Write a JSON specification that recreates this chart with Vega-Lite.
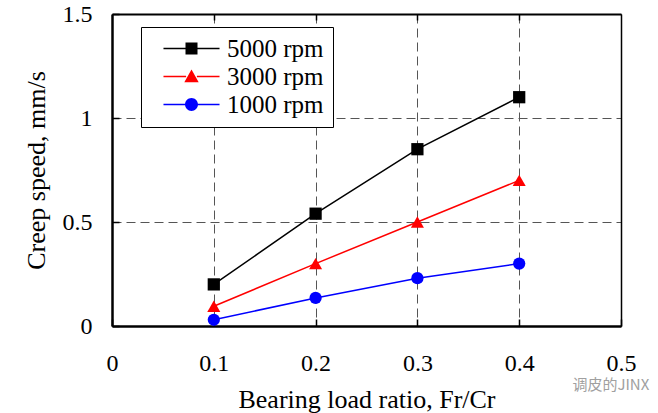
{
  "$schema": "https://vega.github.io/schema/vega-lite/v6.json",
  "width": 509,
  "height": 312,
  "autosize": {"type": "none"},
  "padding": {"left": 112, "top": 14, "right": 37, "bottom": 87},
  "background": "white",
  "config": {
    "view": {"stroke": null},
    "font": "Liberation Serif",
    "axis": {"labelFont": "Liberation Serif", "titleFont": "Liberation Serif"},
    "legend": {"labelFont": "Liberation Serif"}
  },
  "datasets": {
    "main": [
      {"x": 0.1, "speed": 0.2, "series": "5000 rpm"},
      {"x": 0.2, "speed": 0.54, "series": "5000 rpm"},
      {"x": 0.3, "speed": 0.85, "series": "5000 rpm"},
      {"x": 0.4, "speed": 1.1, "series": "5000 rpm"},
      {"x": 0.1, "speed": 0.095, "series": "3000 rpm"},
      {"x": 0.2, "speed": 0.3, "series": "3000 rpm"},
      {"x": 0.3, "speed": 0.5, "series": "3000 rpm"},
      {"x": 0.4, "speed": 0.7, "series": "3000 rpm"},
      {"x": 0.1, "speed": 0.03, "series": "1000 rpm"},
      {"x": 0.2, "speed": 0.135, "series": "1000 rpm"},
      {"x": 0.3, "speed": 0.23, "series": "1000 rpm"},
      {"x": 0.4, "speed": 0.3, "series": "1000 rpm"}
    ],
    "mark": [
      {"x": 0.49, "speed": -0.285, "label": "调皮的JINX"}
    ]
  },
  "resolve": {
    "axis": {"x": "independent", "y": "independent"}
  },
  "layer": [
    {
      "data": {"name": "main"},
      "mark": {"type": "line", "strokeWidth": 1.5},
      "encoding": {
        "x": {
          "field": "x", "type": "quantitative",
          "scale": {"domain": [0, 0.5], "nice": false, "zero": false},
          "axis": {
            "orient": "bottom",
            "values": [0, 0.1, 0.2, 0.3, 0.4, 0.5],
            "format": "~g",
            "labelFlush": false,
            "domain": true, "domainColor": "black", "domainWidth": 2.5,
            "ticks": true, "tickSize": -7, "tickColor": "black", "tickWidth": 1.5,
            "grid": true, "gridDash": [9, 5], "gridColor": "#555", "gridWidth": 1,
            "labelFont": "Liberation Serif", "labelFontSize": 24, "labelColor": "black", "labelPadding": 32,
            "title": "Bearing load ratio, Fr/Cr",
            "titleFont": "Liberation Serif", "titleFontSize": 26, "titleFontWeight": "normal", "titleColor": "black", "titlePadding": 11
          }
        },
        "y": {
          "field": "speed", "type": "quantitative",
          "scale": {"domain": [0, 1.5], "nice": false, "zero": false},
          "axis": {
            "orient": "left",
            "values": [0, 0.5, 1, 1.5],
            "format": "~g",
            "labelFlush": false,
            "domain": true, "domainColor": "black", "domainWidth": 2.5,
            "ticks": true, "tickSize": -7, "tickColor": "black", "tickWidth": 1.5,
            "grid": true, "gridDash": [9, 5], "gridColor": "#555", "gridWidth": 1,
            "labelFont": "Liberation Serif", "labelFontSize": 24, "labelColor": "black", "labelPadding": 27,
            "title": "Creep speed, mm/s",
            "titleFont": "Liberation Serif", "titleFontSize": 26, "titleFontWeight": "normal", "titleColor": "black", "titlePadding": 13
          }
        },
        "color": {
          "field": "series", "type": "nominal",
          "scale": {"domain": ["5000 rpm", "3000 rpm", "1000 rpm"], "range": ["#000000", "#ff0000", "#0000ff"]}
        },
        "detail": {"field": "series"}
      }
    },
    {
      "data": {"name": "main"},
      "mark": {"type": "point", "filled": true, "size": 144, "opacity": 0},
      "encoding": {
        "x": {"field": "x", "type": "quantitative", "axis": null},
        "y": {"field": "speed", "type": "quantitative", "axis": null},
        "color": {
          "field": "series", "type": "nominal",
          "legend": {
            "orient": "none", "legendX": 29, "legendY": 13,
            "title": null,
            "fillColor": "white", "strokeColor": "black",
            "padding": 9,
            "labelFont": "Liberation Serif", "labelFontSize": 25, "labelColor": "black",
            "symbolSize": 144, "symbolOffset": 29, "labelOffset": 23, "rowPadding": 2,
            "symbolStrokeWidth": 0, "symbolOpacity": 1
          }
        },
        "shape": {
          "field": "series", "type": "nominal",
          "scale": {
            "domain": ["5000 rpm", "3000 rpm", "1000 rpm"],
            "range": [
              "M-4.67,-0.13H-0.9V0.13H-4.67ZM0.9,-0.13H4.67V0.13H0.9ZM-1,-1H1V1H-1Z",
              "M-4.67,-0.13H-0.9V0.13H-4.67ZM0.9,-0.13H4.67V0.13H0.9ZM0,-1.15L1.2,0.95H-1.2Z",
              "M-4.67,-0.13H-0.9V0.13H-4.67ZM0.9,-0.13H4.67V0.13H0.9ZM1.08,0A1.08,1.08,0,1,1,-1.08,0A1.08,1.08,0,1,1,1.08,0Z"
            ]
          },
          "legend": {
            "orient": "none", "legendX": 29, "legendY": 13,
            "title": null,
            "fillColor": "white", "strokeColor": "black",
            "padding": 9,
            "labelFont": "Liberation Serif", "labelFontSize": 25, "labelColor": "black",
            "symbolSize": 144, "symbolOffset": 29, "labelOffset": 23, "rowPadding": 2,
            "symbolStrokeWidth": 0, "symbolOpacity": 1
          }
        }
      }
    },
    {
      "data": {"name": "main"},
      "transform": [{"filter": "datum.series === '5000 rpm'"}],
      "mark": {"type": "point", "shape": "square", "filled": true, "size": 150, "opacity": 1},
      "encoding": {
        "x": {
          "field": "x", "type": "quantitative",
          "axis": {
            "orient": "top", "values": [0.1, 0.2, 0.3, 0.4], "labels": false, "title": null, "grid": false,
            "domain": true, "domainColor": "black", "domainWidth": 2,
            "ticks": true, "tickSize": -6, "tickColor": "black", "tickWidth": 1.5
          }
        },
        "y": {
          "field": "speed", "type": "quantitative",
          "axis": {
            "orient": "right", "labels": false, "title": null, "grid": false,
            "domain": true, "domainColor": "black", "domainWidth": 1.5,
            "ticks": false
          }
        },
        "color": {"field": "series", "type": "nominal"}
      }
    },
    {
      "data": {"name": "main"},
      "transform": [{"filter": "datum.series === '3000 rpm'"}],
      "mark": {"type": "point", "shape": "triangle-up", "filled": true, "size": 170, "opacity": 1},
      "encoding": {
        "x": {"field": "x", "type": "quantitative", "axis": null},
        "y": {"field": "speed", "type": "quantitative", "axis": null},
        "color": {"field": "series", "type": "nominal"}
      }
    },
    {
      "data": {"name": "main"},
      "transform": [{"filter": "datum.series === '1000 rpm'"}],
      "mark": {"type": "point", "shape": "circle", "filled": true, "size": 150, "opacity": 1},
      "encoding": {
        "x": {"field": "x", "type": "quantitative", "axis": null},
        "y": {"field": "speed", "type": "quantitative", "axis": null},
        "color": {"field": "series", "type": "nominal"}
      }
    },
    {
      "data": {"name": "mark"},
      "mark": {"type": "text", "font": "Noto Sans CJK SC", "fontSize": 15, "color": "#a0a0a0", "align": "center", "baseline": "middle"},
      "encoding": {
        "x": {"field": "x", "type": "quantitative", "axis": null},
        "y": {"field": "speed", "type": "quantitative", "axis": null},
        "text": {"field": "label"}
      }
    }
  ]
}
